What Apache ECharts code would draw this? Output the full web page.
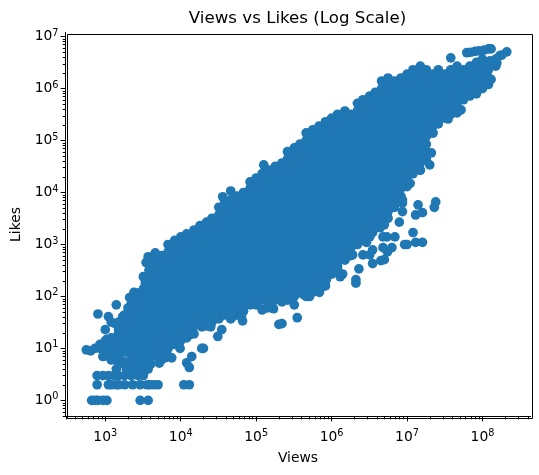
<!DOCTYPE html>
<html><head><meta charset="utf-8">
<style>html,body{margin:0;padding:0;background:#fff}#c{width:539px;height:475px}</style>
<script src="https://cdn.jsdelivr.net/npm/echarts@6/dist/echarts.min.js"></script>
</head><body><div id="c"></div>
<script>
const chartTitle = 'Views vs Likes (Log Scale)';
const xName = 'Views', yName = 'Likes';
const xMajor = [1e3,1e4,1e5,1e6,1e7,1e8];
const yMajor = [1,10,100,1e3,1e4,1e5,1e6,1e7];
const xMinor = [300,400,500,600,700,800,900,2e3,3e3,4e3,5e3,6e3,7e3,8e3,9e3,2e4,3e4,4e4,5e4,6e4,7e4,8e4,9e4,2e5,3e5,4e5,5e5,6e5,7e5,8e5,9e5,2e6,3e6,4e6,5e6,6e6,7e6,8e6,9e6,2e7,3e7,4e7,5e7,6e7,7e7,8e7,9e7,2e8,3e8,4e8];
const yMinor = [.5,.6,.7,.8,.9,2,3,4,5,6,7,8,9,20,30,40,50,60,70,80,90,200,300,400,500,600,700,800,900,2e3,3e3,4e3,5e3,6e3,7e3,8e3,9e3,2e4,3e4,4e4,5e4,6e4,7e4,8e4,9e4,2e5,3e5,4e5,5e5,6e5,7e5,8e5,9e5,2e6,3e6,4e6,5e6,6e6,7e6,8e6,9e6];

// dense body of the cloud: one views value per column, with the likes seen along it
const columnViews = [1e3,1.2e3,1.5e3,1.8e3,2.2e3,2.6e3,3.2e3,3.8e3,4.6e3,5.6e3,6.8e3,8.3e3,
1e4,1.2e4,1.5e4,1.8e4,2.2e4,2.6e4,3.2e4,3.8e4,4.6e4,5.6e4,6.8e4,8.3e4,
1e5,1.2e5,1.5e5,1.8e5,2.2e5,2.6e5,3.2e5,3.8e5,4.6e5,5.6e5,6.8e5,8.3e5,
1e6,1.2e6,1.5e6,1.8e6,2.2e6,2.6e6,3.2e6,3.8e6,4.6e6,5.6e6,6.8e6,8.3e6,
1e7,1.2e7,1.5e7,1.8e7,2.2e7,2.6e7,3.2e7,3.8e7,4.6e7,5.6e7,6.8e7,8.3e7,
1e8,1.2e8,1.5e8,1.8e8];
const columnLikes = [
[7.2,10,14],
[8.5,12,16],
[7.2,10,14,19,27],
[8.5,12,16,23,32],
[7.2,10,14,19,27,37,52,72],
[6.1,8.5,12,16,23,32,44,61,85],
[7.2,10,14,19,27,37,52,72,100,140],
[6.1,8.5,12,16,23,32,44,61,85,120,160,230,320,440],
[7.2,10,14,19,27,37,52,72,100,140,190,270,370,520],
[6.1,8.5,12,16,23,32,44,61,85,120,160,230,320,440,610],
[7.2,10,14,19,27,37,52,72,100,140,190,270,370,520,720,1e3],
[12,16,23,32,44,61,85,120,160,230,320,440,610,850,12e2],
[14,19,27,37,52,72,100,140,190,270,370,520,720,1e3,1400],
[16,23,32,44,61,85,120,160,230,320,440,610,850,12e2,16e2],
[19,27,37,52,72,100,140,190,270,370,520,720,1e3,1400,1900],
[32,44,61,85,120,160,230,320,440,610,850,12e2,16e2,23e2],
[27,37,52,72,100,140,190,270,370,520,720,1e3,1400,1900,2700],
[32,44,61,85,120,160,230,320,440,610,850,12e2,16e2,23e2,32e2],
[37,52,72,100,140,190,270,370,520,720,1e3,1400,1900,2700,3700,5200],
[44,61,85,120,160,230,320,440,610,850,12e2,16e2,23e2,32e2,44e2,61e2],
[37,52,72,100,140,190,270,370,520,720,1e3,1400,1900,2700,3700,5200,7200],
[44,61,85,120,160,230,320,440,610,850,12e2,16e2,23e2,32e2,44e2,61e2,85e2],
[52,72,100,140,190,270,370,520,720,1e3,1400,1900,2700,3700,5200,7200,1e4],
[85,120,160,230,320,440,610,850,12e2,16e2,23e2,32e2,44e2,61e2,85e2,12e3,16e3],
[100,140,190,270,370,520,720,1e3,1400,1900,2700,3700,5200,7200,1e4,14e3,19e3],
[85,120,160,230,320,440,610,850,12e2,16e2,23e2,32e2,44e2,61e2,85e2,12e3,16e3,23e3],
[72,100,140,190,270,370,520,720,1e3,1400,1900,2700,3700,5200,7200,1e4,14e3,19e3,27e3],
[85,120,160,230,320,440,610,850,12e2,16e2,23e2,32e2,44e2,61e2,85e2,12e3,16e3,23e3,32e3],
[100,140,190,270,370,520,720,1e3,1400,1900,2700,3700,5200,7200,1e4,14e3,19e3,27e3,37e3],
[85,120,160,230,320,440,610,850,12e2,16e2,23e2,32e2,44e2,61e2,85e2,12e3,16e3,23e3,32e3,44e3,61e3],
[100,140,190,270,370,520,720,1e3,1400,1900,2700,3700,5200,7200,1e4,14e3,19e3,27e3,37e3,52e3,72e3],
[120,160,230,320,440,610,850,12e2,16e2,23e2,32e2,44e2,61e2,85e2,12e3,16e3,23e3,32e3,44e3,61e3,85e3],
[100,140,190,270,370,520,720,1e3,1400,1900,2700,3700,5200,7200,1e4,14e3,19e3,27e3,37e3,52e3,72e3,1e5,14e4],
[120,160,230,320,440,610,850,12e2,16e2,23e2,32e2,44e2,61e2,85e2,12e3,16e3,23e3,32e3,44e3,61e3,85e3,12e4,16e4],
[140,190,270,370,520,720,1e3,1400,1900,2700,3700,5200,7200,1e4,14e3,19e3,27e3,37e3,52e3,72e3,1e5,14e4,19e4],
[160,230,320,440,610,850,12e2,16e2,23e2,32e2,44e2,61e2,85e2,12e3,16e3,23e3,32e3,44e3,61e3,85e3,12e4,16e4,23e4],
[270,370,520,720,1e3,1400,1900,2700,3700,5200,7200,1e4,14e3,19e3,27e3,37e3,52e3,72e3,1e5,14e4,19e4,27e4],
[320,440,610,850,12e2,16e2,23e2,32e2,44e2,61e2,85e2,12e3,16e3,23e3,32e3,44e3,61e3,85e3,12e4,16e4,23e4,32e4],
[520,720,1e3,1400,1900,2700,3700,5200,7200,1e4,14e3,19e3,27e3,37e3,52e3,72e3,1e5,14e4,19e4,27e4,37e4],
[610,850,12e2,16e2,23e2,32e2,44e2,61e2,85e2,12e3,16e3,23e3,32e3,44e3,61e3,85e3,12e4,16e4,23e4,32e4],
[1e3,1400,1900,2700,3700,5200,7200,1e4,14e3,19e3,27e3,37e3,52e3,72e3,1e5,14e4,19e4,27e4,37e4,52e4],
[12e2,16e2,23e2,32e2,44e2,61e2,85e2,12e3,16e3,23e3,32e3,44e3,61e3,85e3,12e4,16e4,23e4,32e4,44e4,61e4],
[1400,1900,2700,3700,5200,7200,1e4,14e3,19e3,27e3,37e3,52e3,72e3,1e5,14e4,19e4,27e4,37e4,52e4,72e4],
[23e2,32e2,44e2,61e2,85e2,12e3,16e3,23e3,32e3,44e3,61e3,85e3,12e4,16e4,23e4,32e4,44e4,61e4,85e4],
[2700,3700,5200,7200,1e4,14e3,19e3,27e3,37e3,52e3,72e3,1e5,14e4,19e4,27e4,37e4,52e4,72e4,1e6,14e5],
[32e2,44e2,61e2,85e2,12e3,16e3,23e3,32e3,44e3,61e3,85e3,12e4,16e4,23e4,32e4,44e4,61e4,85e4,12e5,16e5],
[5200,7200,1e4,14e3,19e3,27e3,37e3,52e3,72e3,1e5,14e4,19e4,27e4,37e4,52e4,72e4,1e6,14e5],
[85e2,12e3,16e3,23e3,32e3,44e3,61e3,85e3,12e4,16e4,23e4,32e4,44e4,61e4,85e4,12e5,16e5],
[14e3,19e3,27e3,37e3,52e3,72e3,1e5,14e4,19e4,27e4,37e4,52e4,72e4,1e6,14e5,19e5],
[23e3,32e3,44e3,61e3,85e3,12e4,16e4,23e4,32e4,44e4,61e4,85e4,12e5,16e5,23e5],
[27e3,37e3,52e3,72e3,1e5,14e4,19e4,27e4,37e4,52e4,72e4,1e6,14e5,19e5,27e5],
[44e3,61e3,85e3,12e4,16e4,23e4,32e4,44e4,61e4,85e4,12e5,16e5,23e5],
[14e4,19e4,27e4,37e4,52e4,72e4,1e6,14e5,19e5],
[23e4,32e4,44e4,61e4,85e4,12e5,16e5,23e5],
[27e4,37e4,52e4,72e4,1e6,14e5,19e5],
[32e4,44e4,61e4,85e4,12e5,16e5,23e5],
[37e4,52e4,72e4,1e6,14e5,19e5,27e5],
[61e4,85e4,12e5,16e5,23e5],
[72e4,1e6,14e5,19e5,27e5],
[85e4,12e5,16e5,23e5,32e5],
[1e6,14e5,19e5,27e5,37e5],
[12e5,16e5,23e5,32e5],
[27e5,37e5],
[44e5]
];

// separately readable dots around the outside of the cloud
const edgeViews = [660,730,800,930,1050,2900,3700,
780,1100,1200,1400,1500,1800,2300,2900,3600,3900,4400,5000,1.1e4,1.3e4,
780,930,1100,1300,1500,1800,2200,2700,3200,
1400,1900,2300,2900,3700,
1500,2100,2600,3400,4000,
560,640,730,850,930,1100,800,1400,1100,1200,1350,1000,1050,850,
1700,2100,2600,3400,3200,3700,4600,3500,
2e4,1.9e4,3.1e4,3.5e4,6.6e4,6.4e4,4.9e4,1.9e4,2.5e4,1.3e4,1.2e4,1.4e4,7600,1.3e4,9800,8600,1.1e4,
3900,2700,5200,6200,1800,1200,
8.3e4,1e5,1.2e5,1.4e5,
1.7e5,1.7e5,2.2e5,2.9e5,3.2e5,3.5e5,2.2e5,2e5,4.2e5,5.1e5,6.9e5,7.6e5,1.3e6,1.4e6,2.1e6,2.1e6,2.3e6,2.6e6,3.2e6,3.5e6,4.5e6,5e6,5.5e6,6.3e6,5.4e6,6.9e6,9.3e6,1e7,1.3e7,1.6e7,1.2e7,7.9e6,8.7e6,8.7e6,1.4e7,1.3e7,1.6e7,2.3e7,2.4e7,
4.8e6,3.5e6,1.9e6,1.5e6,1.2e6,8.5e5,5.6e5,3.5e5,2.8e5,5e6,4.4e6,5.5e6,6.5e6,4.8e6,3.5e6,4.8e6,2.3e6,2.9e6,
8.7e6,6.5e6,1e7,1.1e7,1.5e7,2e7,1.6e7,2.1e7,2.2e7,2.6e7,3.5e7,4.6e7,5.2e7,8.3e7,1.07e8,1.3e8,1.55e8,
3.5e3,1.26e5,4.6e4,3.6e4,3.8e7,
6.2e7,7e7,8e7,9e7,1.05e8,1.2e8,1.3e8,2.1e8,1.7e8,1.26e8,
1350,1500,1500,1800,1800,2000,2400,2000,1260,1500,1570,1800,1230,2000];
const edgeLikes = [1,1,1,1,1,1,1,
2,2,2,2,2,2,2,2,2,2,2,2,2,2,
3,3,3,3,3,3,3,3,3,
4,4,4,4,4,
5,5,5,5,5,
9.4,9,10,10,7,8.6,46,69,41,32,30,23,15,12,
41,95,117,182,240,580,690,450,
10,10,17,23,34,41,41,26,26,4.3,5.3,7,6.6,18,10,15,23,
5.5,5.5,5.2,6.6,5.5,6,
69,69,55,60,
58,108,79,94,69,39,30,29,110,100,120,155,240,270,180,210,340,630,630,430,490,510,720,870,1400,1400,1e3,1e3,1100,1100,1700,2700,4300,6300,5800,3700,4100,5200,6600,
870,790,630,500,370,210,210,190,190,2400,2100,4e3,5200,3700,1700,1400,1200,1100,
7200,1.1e4,1.3e4,1.5e4,2.7e4,3.4e4,4.3e4,5.8e4,1.4e5,2.1e5,2.6e5,3.4e5,3.9e5,7.9e5,1.5e6,1.5e6,3.1e6,
450,3.4e4,1.07e4,8.3e3,3.9e6,
4.9e6,5e6,5.2e6,5.3e6,5.5e6,5.8e6,5.8e6,5.1e6,4.3e6,3.4e6,
16,23,32,44,23,60,120,40,12,15,23,9.4,7.6,15];

const points = [];
columnViews.forEach((v, i) => columnLikes[i].forEach(l => points.push([v, l])));
edgeViews.forEach((v, i) => points.push([v, edgeLikes[i]]));

const font = 'DejaVu Sans';
const tickRich = {
  b:{fontFamily:font, fontSize:13.89, color:'#000'},
  s:{fontFamily:font, fontSize:9.72, color:'#000', padding:[0,0,7,0]}
};
const supLabel = v => '{b|10}{s|' + Math.round(Math.log10(v)) + '}';
const xMin = 297, xMax = 4.33e8, yMin = 0.49, yMax = 1.2e7;
const line = {show:true, onZero:false, lineStyle:{color:'#000', width:1}};
const chart = echarts.init(document.getElementById('c'), null, {renderer:'canvas'});
chart.setOption({
  animation:false,
  backgroundColor:'#fff',
  title:{text:chartTitle, left:292.5, top:5, textAlign:'center',
    textStyle:{fontFamily:font, fontSize:16.67, fontWeight:'normal', color:'#000'}},
  grid:{left:65.5, top:32.5, width:465, height:384, containLabel:false},
  graphic:[{type:'rect', left:65, top:32, z:10, silent:true,
    shape:{width:465, height:384}, style:{fill:'none', stroke:'#000', lineWidth:1}}],
  xAxis:[
    {type:'log', logBase:10, min:xMin, max:xMax, name:xName, nameLocation:'middle', nameGap:35,
     nameTextStyle:{fontFamily:font, fontSize:13.89, color:'#000'}, axisLine:line, splitLine:{show:false},
     axisTick:{show:true, length:4.9, lineStyle:{color:'#000', width:1}, customValues:xMajor},
     axisLabel:{show:true, customValues:xMajor, formatter:supLabel, rich:tickRich, margin:12}},
    {type:'log', logBase:10, min:xMin, max:xMax, position:'bottom', axisLine:{show:false}, splitLine:{show:false},
     axisTick:{show:true, length:2.8, lineStyle:{color:'#000', width:1}, customValues:xMinor},
     axisLabel:{show:false}}
  ],
  yAxis:[
    {type:'log', logBase:10, min:yMin, max:yMax, name:yName, nameLocation:'middle', nameGap:41,
     nameTextStyle:{fontFamily:font, fontSize:13.89, color:'#000'}, axisLine:line, splitLine:{show:false},
     axisTick:{show:true, length:4.9, lineStyle:{color:'#000', width:1}, customValues:yMajor},
     axisLabel:{show:true, customValues:yMajor, formatter:supLabel, rich:tickRich, margin:7}},
    {type:'log', logBase:10, min:yMin, max:yMax, position:'left', axisLine:{show:false}, splitLine:{show:false},
     axisTick:{show:true, length:2.8, lineStyle:{color:'#000', width:1}, customValues:yMinor},
     axisLabel:{show:false}}
  ],
  series:[{type:'scatter', data:points, symbol:'circle', symbolSize:9.7,
    itemStyle:{color:'#1f77b4', opacity:1}, xAxisIndex:0, yAxisIndex:0, large:false, clip:true, progressive:0, silent:true}]
});
</script></body></html>
